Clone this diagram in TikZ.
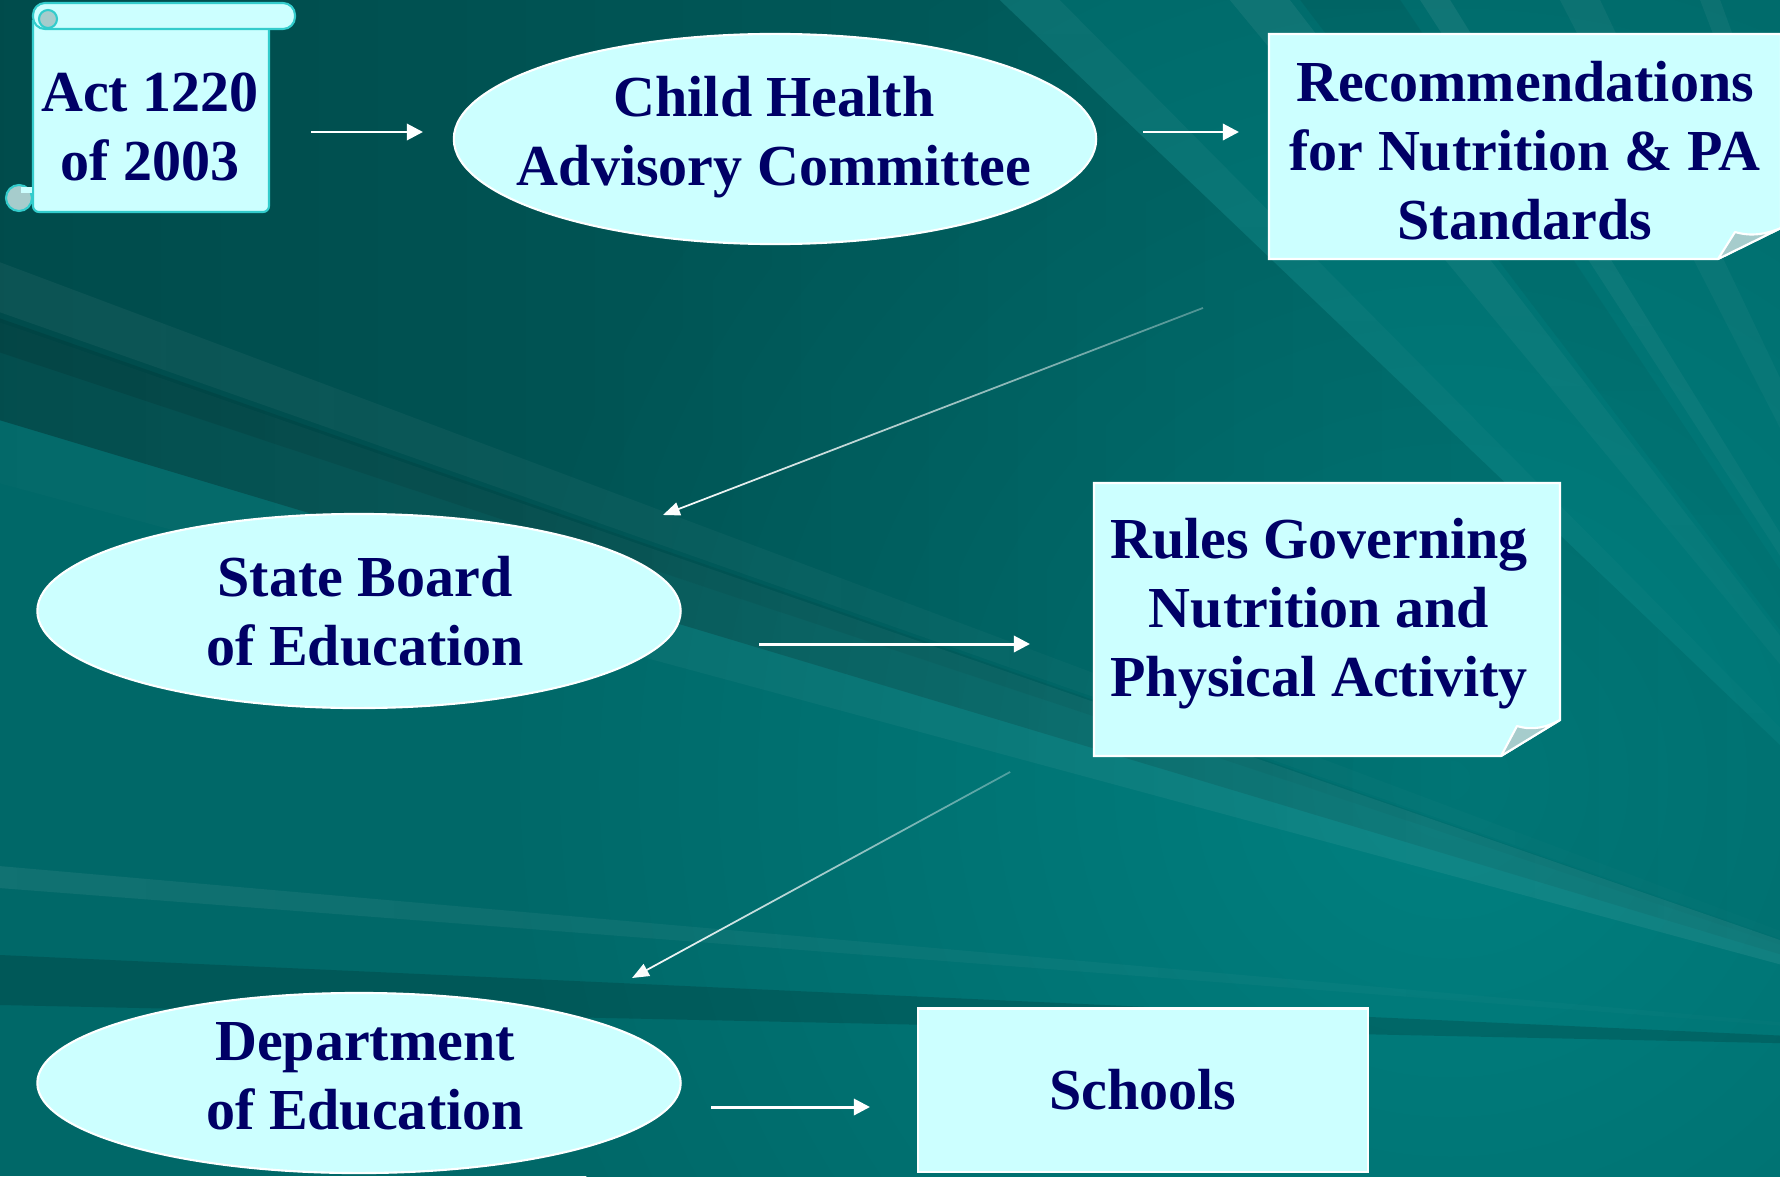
\documentclass[tikz,border=0pt]{standalone}
\usepackage{fontspec}
\setmainfont{Liberation Serif}
\usetikzlibrary{arrows.meta,shapes.geometric,calc,fadings}

\definecolor{navy}{RGB}{0,0,102}
\definecolor{paleaqua}{RGB}{204,255,255}
\definecolor{curlgrey}{RGB}{166,204,204}
\definecolor{scrolledge}{RGB}{51,204,204}
\definecolor{bgbase}{RGB}{0,104,104}
\definecolor{bglight}{RGB}{0,128,128}

\newcommand\boxfont{\fontsize{16.5}{19.6}\selectfont\bfseries}
% a ray of light or shade spreading from the focus F through two points
\newcommand\ray[3]{\fill[#3] (F) -- ($(F)!1.2!#1$) -- ($(F)!1.2!#2$) -- cycle;}
% thin leader lines fade out towards their tail
\tikzfading[name=tailfade, left color=transparent!0, middle color=transparent!0,
            right color=transparent!70]

\begin{document}
\begin{tikzpicture}[x=0.01cm,y=-0.01cm,
  oval/.style={ellipse, draw=white, line width=0.6pt, fill=paleaqua, inner sep=0pt},
  plainbox/.style={rectangle, draw=white, line width=0.6pt, fill=paleaqua, inner sep=0pt,
                   text=navy, font=\boxfont},
  sheet/.style={fill=paleaqua, draw=white, line width=0.6pt},
  flap/.style={fill=curlgrey, draw=white, line width=0.6pt, line join=round},
  txt/.style={text=navy, font=\boxfont, align=center, inner sep=0pt},
  flow/.style={draw=white, line width=0.85pt, -{Triangle[length=4.6pt,width=4.6pt]}},
  lead/.style={draw=white, line width=0.5pt, -{Triangle[length=4.8pt,width=3.8pt]},
               path fading=tailfade},
]
\useasboundingbox (0,0) rectangle (1780,1176);

% ---- background: teal with rays ----
\fill[bgbase] (0,0) rectangle (1780,1176);
\shade[inner color=bglight, outer color=bgbase] (1450,780) circle (950);
\coordinate (F) at (2100,1050);
\fill[black, fill opacity=.32, path fading=east]
  (F) -- (-400,300) -- (-400,-400) -- (581,-400) -- cycle;
\ray{(0,262)}{(0,312)}{white, fill opacity=.06, path fading=east}
\ray{(0,318)}{(0,352)}{black, fill opacity=.12, path fading=east}
\ray{(0,322)}{(0,483)}{white, fill opacity=.08, path fading=west}
\ray{(0,866)}{(0,888)}{white, fill opacity=.08, path fading=east}
\ray{(0,955)}{(0,1005)}{black, fill opacity=.15}
\ray{(1000,0)}{(1060,0)}{white, fill opacity=.05, path fading=south}
\ray{(1230,0)}{(1290,0)}{white, fill opacity=.07, path fading=south}
\ray{(1300,0)}{(1400,0)}{black, fill opacity=.08, path fading=south}
\ray{(1420,0)}{(1450,0)}{white, fill opacity=.08, path fading=south}
\ray{(1560,0)}{(1600,0)}{white, fill opacity=.06, path fading=south}
\ray{(1700,0)}{(1720,0)}{white, fill opacity=.06, path fading=south}

% ---- scroll ----
\begin{scope}[draw=scrolledge, line width=0.6pt]
  \filldraw[fill=paleaqua, rounded corners=0.06cm] (33,20) -- (33,212) -- (269,212) -- (269,20);
  \filldraw[fill=paleaqua, rounded corners=0.12cm] (33,3) rectangle (295,29);
  \filldraw[fill=curlgrey] (48,19) circle (9);
  \filldraw[fill=curlgrey] (19,198) circle (13);
  \fill[paleaqua] (21,187) rectangle (32,193);
\end{scope}
\node[txt] (act) at (150,127) {Act 1220\\of 2003};

% ---- ellipses ----
\node[oval, minimum width=6.42cm, minimum height=2.10cm] (chac) at (775,139) {};
\node[txt] (chact) at (774,137) {Child Health\\Advisory Committee};

\node[oval, minimum width=6.43cm, minimum height=1.94cm] (sb) at (359,611) {};
\node[txt] (sbt) at (365,611) {State Board\\of Education};

\node[oval, minimum width=6.43cm, minimum height=1.80cm] (dept) at (359,1083) {};
\node[txt] (deptt) at (365,1076) {Department\\of Education};

% ---- sheets with a turned-up corner ----
\path[sheet] (1269,34) -- (1781,34) -- (1781,228) -- (1718,259) -- (1269,259) -- cycle;
\path[flap] (1718,259) -- (1735,232) .. controls (1752,237) and (1766,234) .. (1781,228) -- cycle;
\node[txt] (rec) at (1525,151) {Recommendations\\for Nutrition \& PA\\Standards};

\path[sheet] (1094,483) -- (1560,483) -- (1560,720) -- (1501,756) -- (1094,756) -- cycle;
\path[flap] (1501,756) -- (1517,726) .. controls (1533,731) and (1547,727) .. (1560,720) -- cycle;
\node[txt] (rules) at (1319,614) {Rules Governing\\Nutrition and\\Physical Activity};

\node[plainbox, minimum width=4.50cm, minimum height=1.63cm] (schools) at (1143,1090) {Schools};

% ---- connectors ----
\coordinate (a1s) at (311,132);  \coordinate (a1e) at (423,132);
\coordinate (a2s) at (1143,132); \coordinate (a2e) at (1239,132);
\coordinate (a3s) at (1203,308); \coordinate (a3e) at (663,515);
\coordinate (a4s) at (759,644);  \coordinate (a4e) at (1030,644);
\coordinate (a5s) at (1010,772); \coordinate (a5e) at (632,978);
\coordinate (a6s) at (711,1107); \coordinate (a6e) at (870,1107);

\draw[flow] (a1s) -- (a1e);
\draw[flow] (a2s) -- (a2e);
\draw[lead] (a3s) -- (a3e);
\draw[flow] (a4s) -- (a4e);
\draw[lead] (a5s) -- (a5e);
\draw[flow] (a6s) -- (a6e);
\end{tikzpicture}
\end{document}
